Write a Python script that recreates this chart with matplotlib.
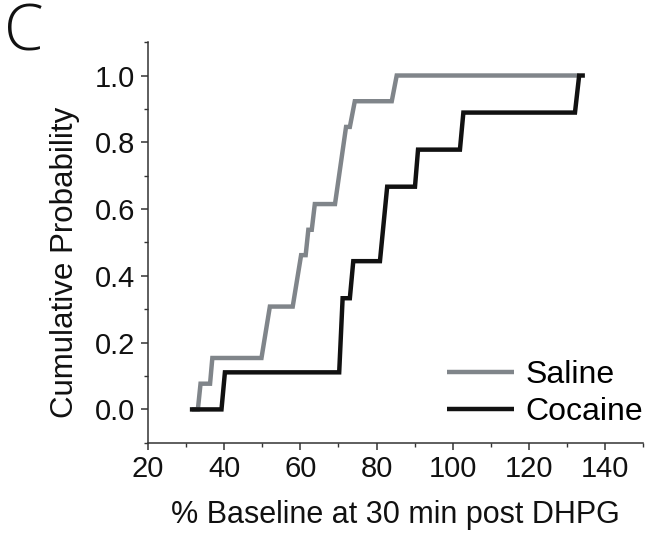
import numpy as np
import matplotlib
matplotlib.use('Agg')
import matplotlib.pyplot as plt
from matplotlib.ticker import MultipleLocator

plt.rcParams['font.family'] = ['Liberation Sans', 'DejaVu Sans']

# vertices of the two cumulative curves
saline_x = [31.5, 33.1, 33.8, 36.3, 36.9, 49.8, 52.0, 58.0, 60.2, 61.4, 62.1,
            63.0, 63.8, 69.1, 72.0, 73.0, 74.3, 84.0, 85.3, 133.0]
saline_y = [0.0, 0.0, 0.077, 0.077, 0.154, 0.154, 0.308, 0.308, 0.462, 0.462,
            0.538, 0.538, 0.615, 0.615, 0.846, 0.846, 0.923, 0.923, 1.0, 1.0]

cocaine_x = [31.0, 39.3, 40.2, 70.2, 71.1, 73.0, 73.9, 80.9, 82.8, 90.1, 90.9,
             101.9, 102.8, 132.1, 133.2, 134.7]
cocaine_y = [0.0, 0.0, 0.111, 0.111, 0.333, 0.333, 0.444, 0.444, 0.667, 0.667,
             0.778, 0.778, 0.889, 0.889, 1.0, 1.0]

x_ticks = [20, 40, 60, 80, 100, 120, 140]
y_ticks = [0.0, 0.2, 0.4, 0.6, 0.8, 1.0]

fig = plt.figure(figsize=(6.49, 5.40), dpi=100)
ax = fig.add_axes([0.228, 0.180, 0.763, 0.742])

ax.plot(saline_x, saline_y, color='#80858a', lw=3.2, label='Saline',
        solid_joinstyle='miter', solid_capstyle='butt')
ax.plot(cocaine_x, cocaine_y, color='#111111', lw=3.2, label='Cocaine',
        solid_joinstyle='miter', solid_capstyle='butt')

ax.set_xlim(20, 150)
ax.set_ylim(-0.1, 1.1)
ax.set_xticks(x_ticks)
ax.set_yticks(y_ticks)
ax.set_yticklabels(['%.1f' % v for v in y_ticks])
ax.xaxis.set_minor_locator(MultipleLocator(10))
ax.yaxis.set_minor_locator(MultipleLocator(0.1))

for s in ['top', 'right']:
    ax.spines[s].set_visible(False)
for s in ['left', 'bottom']:
    ax.spines[s].set_linewidth(1.1)
    ax.spines[s].set_color('#333333')

ax.tick_params(which='major', direction='out', length=5, width=1.1,
               color='#333333', labelsize=21, pad=4, labelcolor='#111111')
ax.tick_params(which='minor', direction='out', length=3, width=1.0,
               color='#333333')

ax.set_xlabel('% Baseline at 30 min post DHPG', fontsize=22, labelpad=12,
              color='#111111')
ax.set_ylabel('Cumulative Probability', fontsize=22.5, color='#111111')
ax.yaxis.set_label_coords(-0.137, 0.45)

leg = ax.legend(loc='lower right', bbox_to_anchor=(1.0, 0.04), frameon=False,
                fontsize=23, handlelength=2.1, handletextpad=0.37,
                labelspacing=0.2, borderpad=0, borderaxespad=0)
for line in leg.get_lines():
    line.set_linewidth(3.2)

fig.text(0.006, 0.997, 'C', fontsize=46, family=['Open Sans', 'DejaVu Sans'],
         fontweight='light', va='top', ha='left', color='#111111')

fig.savefig('out.png', dpi=100)
